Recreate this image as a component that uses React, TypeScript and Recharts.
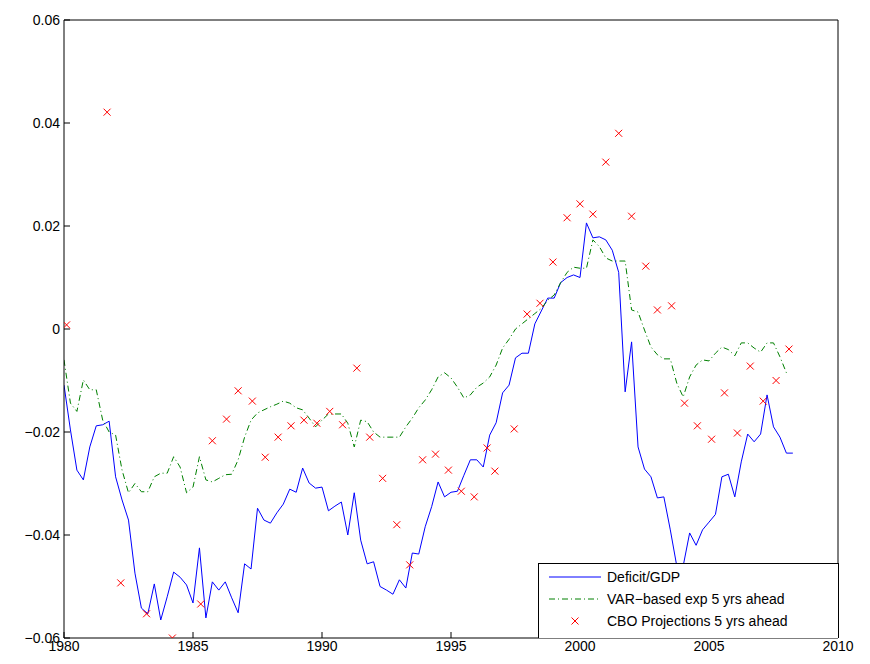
import React from 'react'
import { ComposedChart, Line, Scatter, XAxis, YAxis, ReferenceLine } from 'recharts'

// quarterly, starting 1980 Q1
const deficitGdp = [
  -0.0109, -0.0196, -0.0274, -0.0293, -0.0229, -0.0188, -0.0186, -0.0179, -0.0287, -0.0332,
  -0.0371, -0.0474, -0.0542, -0.0553, -0.0495, -0.0565, -0.052, -0.0472, -0.0482, -0.0497,
  -0.0532, -0.0425, -0.0561, -0.0491, -0.0507, -0.0491, -0.0522, -0.0551, -0.0456, -0.0466,
  -0.0348, -0.0371, -0.0377, -0.0357, -0.034, -0.0311, -0.0317, -0.027, -0.0299, -0.0309,
  -0.0307, -0.0353, -0.0344,
  -0.0336, -0.04, -0.0318, -0.041, -0.0456, -0.0452, -0.05, -0.0507, -0.0515, -0.0487,
  -0.0503, -0.0435, -0.0437, -0.0384, -0.0345, -0.0297, -0.0326, -0.0317, -0.0315, -0.0284,
  -0.0254, -0.0254, -0.0268, -0.0206, -0.0182, -0.0124, -0.0109, -0.0056, -0.0047, -0.0047,
  0.001, 0.0035, 0.006, 0.006, 0.009, 0.01, 0.0105, 0.01, 0.0206, 0.0177,
  0.0179, 0.0173, 0.0153, 0.011, -0.0122, -0.0025, -0.0229, -0.0272, -0.0287, -0.0328,
  -0.0326, -0.039, -0.046, -0.046, -0.0396, -0.042, -0.039, -0.0375, -0.036, -0.0287,
  -0.0282, -0.0326, -0.0258, -0.0204, -0.0219, -0.0204, -0.0128, -0.019, -0.021, -0.0241,
  -0.0241,
]

const varExp5y = [
  -0.006, -0.0144, -0.016, -0.0099, -0.0118, -0.0118, -0.0177, -0.02, -0.0206, -0.0274,
  -0.0318, -0.03, -0.0316, -0.0316, -0.0287, -0.028, -0.028, -0.0248, -0.0268, -0.0318,
  -0.0307, -0.0248, -0.0293, -0.0297, -0.029, -0.0283, -0.0282, -0.0254, -0.021, -0.0177,
  -0.0163, -0.0157, -0.0151, -0.0146, -0.014, -0.0144, -0.0153, -0.0157, -0.0173, -0.019,
  -0.0177, -0.0165, -0.0165,
  -0.0165, -0.0183, -0.0229, -0.0177, -0.018, -0.02, -0.021, -0.021, -0.021, -0.021,
  -0.019, -0.0173, -0.0153, -0.0138, -0.0118, -0.0093, -0.0085, -0.0095, -0.0113, -0.0134,
  -0.0128, -0.0113, -0.0105, -0.0093, -0.007, -0.0037, -0.002, 0.0, 0.001, 0.002,
  0.003, 0.004, 0.0056, 0.0066, 0.009, 0.011, 0.012, 0.0118, 0.0118, 0.0173,
  0.016, 0.0138, 0.0132, 0.0132, 0.0132, 0.0037, 0.0033, -0.0002, -0.0035, -0.005,
  -0.0058, -0.0058, -0.0105, -0.0132, -0.0093, -0.007, -0.006, -0.0062, -0.0047, -0.0035,
  -0.004, -0.0052, -0.0027, -0.0027, -0.0037, -0.0045, -0.0027, -0.0027, -0.0054, -0.0085,
]

const cboYears = [
  1980.1, 1981.67, 1982.2, 1983.2, 1984.2, 1985.3, 1985.75, 1986.3, 1986.75, 1987.3,
  1987.8, 1988.3, 1988.8, 1989.3, 1989.8, 1990.3, 1990.8, 1991.35, 1991.85, 1992.35,
  1992.9, 1993.4, 1993.9, 1994.4, 1994.9, 1995.4, 1995.9, 1996.4, 1996.7, 1997.45,
  1997.95, 1998.45, 1998.95, 1999.5, 2000.0, 2000.5, 2001.0, 2001.5, 2002.0, 2002.55,
  2003.0, 2003.55, 2004.05, 2004.55, 2005.1, 2005.6, 2006.1, 2006.6, 2007.1, 2007.6,
  2008.1,
]
const cboProj5y = [
  0.0008, 0.0421, -0.0493, -0.0553, -0.06, -0.0534, -0.0217, -0.0175, -0.012, -0.014,
  -0.0249, -0.021, -0.0188, -0.0177, -0.0183, -0.016, -0.0186, -0.0076, -0.021, -0.029,
  -0.038, -0.0458, -0.0254, -0.0243, -0.0274, -0.0315, -0.0326, -0.0231, -0.0276, -0.0194,
  0.0029, 0.005, 0.013, 0.0216, 0.0243, 0.0223, 0.0324, 0.038, 0.0219, 0.0122,
  0.0037, 0.0045, -0.0144, -0.0188, -0.0214, -0.0124, -0.0202, -0.0072, -0.014, -0.01,
  -0.0039,
]

const xTicks = [1980, 1985, 1990, 1995, 2000, 2005, 2010]
const yTicks = [-0.06, -0.04, -0.02, 0, 0.02, 0.04, 0.06]

const deficitData = deficitGdp.map((v, i) => ({ x: 1980 + i * 0.25, v }))
const varData = varExp5y.map((v, i) => ({ x: 1980 + i * 0.25, v }))
const cboData = cboYears.map((x, i) => ({ x, v: cboProj5y[i] }))

const font = '"Liberation Sans", Arial, sans-serif'

const Cross = (props: any) => {
  const { cx, cy } = props
  const s = 3.5
  return (
    <g stroke="#ff0000" strokeWidth={1}>
      <line x1={cx - s} y1={cy - s} x2={cx + s} y2={cy + s} />
      <line x1={cx - s} y1={cy + s} x2={cx + s} y2={cy - s} />
    </g>
  )
}

const fmtY = (v: number) => (v === 0 ? '0' : v < 0 ? '\u2212' + Math.abs(v).toFixed(2) : v.toFixed(2))

export default function App() {
  return (
    <div style={{ position: 'absolute', left: 0, top: 0, width: 870, height: 664, background: '#fff', fontFamily: font }}>
      <ComposedChart width={870} height={664} margin={{ top: 20, right: 32, bottom: 6, left: 0 }}>
        <XAxis
          type="number"
          dataKey="x"
          domain={[1980, 2010]}
          ticks={xTicks}
          allowDataOverflow
          height={20}
          stroke="#000"
          tickSize={-6}
          tickMargin={9}
          tick={{ fill: '#000', fontSize: 14, fontFamily: font }}
        />
        <YAxis
          type="number"
          dataKey="v"
          domain={[-0.06, 0.06]}
          ticks={yTicks}
          allowDataOverflow
          width={64}
          stroke="#000"
          tickSize={-6}
          tickMargin={10}
          tickFormatter={fmtY}
          tick={{ fill: '#000', fontSize: 14, fontFamily: font }}
        />
        <ReferenceLine x={2010} stroke="#000" />
        <ReferenceLine y={0.06} stroke="#000" />
        <Line data={deficitData} dataKey="v" stroke="#0000ff" strokeWidth={1} dot={false} isAnimationActive={false} />
        <Line data={varData} dataKey="v" stroke="#008000" strokeWidth={1} strokeDasharray="6 3 1 3" dot={false} isAnimationActive={false} />
        <Scatter data={cboData} dataKey="v" shape={<Cross />} isAnimationActive={false} />
      </ComposedChart>
      <div style={{ position: 'absolute', left: 538, top: 563, width: 299, height: 74, border: '1px solid #000', borderBottom: 'none', background: '#fff', fontSize: 14 }}>
        {[
          { label: 'Deficit/GDP', kind: 'solid' },
          { label: 'VAR\u2212based exp 5 yrs ahead', kind: 'dash' },
          { label: 'CBO Projections 5 yrs ahead', kind: 'cross' },
        ].map((r, i) => (
          <div key={i} style={{ position: 'absolute', left: 8, top: 3 + i * 22, height: 20, display: 'flex', alignItems: 'center' }}>
            <svg width={56} height={12}>
              {r.kind === 'solid' && <line x1={2} y1={6} x2={54} y2={6} stroke="#0000ff" />}
              {r.kind === 'dash' && <line x1={2} y1={6} x2={54} y2={6} stroke="#008000" strokeDasharray="6 3 1 3" />}
              {r.kind === 'cross' && <Cross cx={28} cy={6} />}
            </svg>
            <span style={{ marginLeft: 4 }}>{r.label}</span>
          </div>
        ))}
      </div>
    </div>
  )
}
